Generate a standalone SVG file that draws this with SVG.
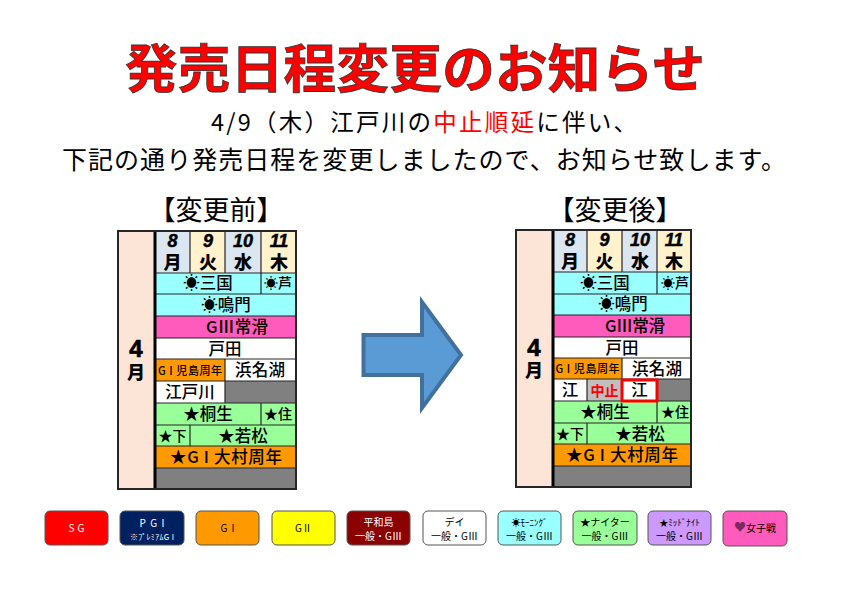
<svg xmlns="http://www.w3.org/2000/svg" width="842" height="595" viewBox="0 0 842 595">
<style>
text{font-family:"Noto Sans CJK JP","Noto Sans",sans-serif;text-anchor:middle;fill:#000}
.b{stroke:#262626;stroke-width:2;fill:none}
.mon{fill:#fce4d6}.dy1{fill:#dce6f1}.dy2{fill:#fff2cc}.cy{fill:#99ffff}.pk{fill:#ff5bbd}.wh{fill:#fff}.or{fill:#ff9900}.gy{fill:#808080}.gn{fill:#99ff99}.lg{fill:#bfbfbf}
.d{font-family:"Liberation Sans",sans-serif;font-size:18px;font-weight:700;font-style:italic;stroke:#000;stroke-width:.5}
.w{font-size:18px;font-weight:900}
.t{font-size:16.5px;font-weight:500}
.s{font-size:14px;font-weight:500}
.x{font-size:11px;font-weight:500}
.m{font-family:"Liberation Sans",sans-serif;font-size:24px;font-weight:700;stroke:#000;stroke-width:.7}
.h{font-size:27px}
.lb{stroke:#555;stroke-width:1}
.l{font-size:10px}
.ln{stroke:#262626;stroke-width:1.2;fill:none}
</style>
<g id="title">
<text x="415" y="88" font-size="52.5" font-weight="700" textLength="580" style="fill:#ff0000;stroke:#333;stroke-width:.8">発売日程変更のお知らせ</text>
<text x="424" y="131" font-size="23.500" textLength="426" lengthAdjust="spacing">4/9（木）江戸川の<tspan style="fill:#ff0000">中止順延</tspan>に伴い、</text>
<text x="424" y="169" font-size="25" textLength="724" lengthAdjust="spacing">下記の通り発売日程を変更しましたので、お知らせ致します。</text>
</g>

<g id="before">
<text class="h" x="216" y="220">【変更前】</text>
<rect class="mon" x="118" y="231" width="37" height="258"/>
<rect class="dy1" x="155" y="231" width="35" height="42"/>
<rect class="dy2" x="190" y="231" width="35" height="42"/>
<rect class="dy1" x="225" y="231" width="36" height="42"/>
<rect class="dy2" x="261" y="231" width="35" height="42"/>
<rect class="cy" x="155" y="273" width="141" height="43"/>
<rect class="pk" x="155" y="316" width="141" height="22"/>
<rect class="wh" x="155" y="338" width="141" height="43"/>
<rect class="or" x="155" y="359" width="70" height="22"/>
<rect class="wh" x="155" y="381" width="70" height="22"/>
<rect class="gy" x="225" y="381" width="71" height="22"/>
<rect class="gn" x="155" y="403" width="141" height="43"/>
<rect class="or" x="155" y="446" width="141" height="22"/>
<rect class="gy" x="155" y="468" width="141" height="21"/>
<path class="ln" d="M155 273H296M155 294H296M155 316H296M155 338H296M155 359H296M155 381H296M155 403H296M155 425H296M155 446H296M155 468H296M190 231V273M225 231V273M261 231V294M225 359V403M261 403V425M190 425V446"/>
<path d="M155 231V489" stroke="#000" stroke-width="3"/>
<rect class="b" x="118" y="231" width="178" height="258"/>
<text class="d" x="172.500" y="247">8</text><text class="w" x="172.500" y="269">月</text>
<text class="d" x="208" y="247">9</text><text class="w" x="208" y="269">火</text>
<text class="d" x="243" y="247">10</text><text class="w" x="243" y="269">水</text>
<text class="d" x="279" y="247">11</text><text class="w" x="279" y="269">木</text>
<text class="t" x="208" y="289">☀三国</text>
<text class="s" x="278" y="288">☀芦</text>
<text class="t" x="226" y="311">☀鳴門</text>
<text class="t" x="237" y="333" textLength="62">GⅢ常滑</text>
<text class="t" x="225" y="355">戸田</text>
<text class="x" x="190" y="375" textLength="64">G I 児島周年</text>
<text class="t" x="260" y="376" textLength="50">浜名湖</text>
<text class="t" x="190" y="398">江戸川</text>
<text class="t" x="208" y="420">★桐生</text>
<text class="s" x="278" y="419">★住</text>
<text class="s" x="172.500" y="441">★下</text>
<text class="t" x="243" y="442">★若松</text>
<text class="t" x="226" y="463" textLength="112">★G I 大村周年</text>
<text class="m" x="136" y="357">4</text><text class="w" x="136" y="379">月</text>
</g>

<g id="after">
<text class="h" x="615" y="220">【変更後】</text>
<rect class="mon" x="516" y="230" width="37" height="257"/>
<rect class="dy1" x="553" y="230" width="34" height="42"/>
<rect class="dy2" x="587" y="230" width="35" height="42"/>
<rect class="dy1" x="622" y="230" width="35" height="42"/>
<rect class="dy2" x="657" y="230" width="34" height="42"/>
<rect class="cy" x="553" y="272" width="138" height="43"/>
<rect class="pk" x="553" y="315" width="138" height="22"/>
<rect class="wh" x="553" y="337" width="138" height="42"/>
<rect class="or" x="553" y="358" width="69" height="21"/>
<rect class="wh" x="553" y="379" width="34" height="22"/>
<rect class="lg" x="587" y="379" width="35" height="22"/>
<rect class="gy" x="657" y="379" width="34" height="22"/>
<rect class="gn" x="553" y="401" width="138" height="43"/>
<rect class="or" x="553" y="444" width="138" height="22"/>
<rect class="gy" x="553" y="466" width="138" height="21"/>
<path class="ln" d="M553 272H691M553 294H691M553 315H691M553 337H691M553 358H691M553 379H691M553 401H691M553 423H691M553 444H691M553 466H691M587 230V272M622 230V272M657 230V294M622 358V379M587 379V401M657 401V423M587 423V444"/>
<path d="M553 230V487" stroke="#000" stroke-width="3"/>
<rect class="b" x="516" y="230" width="175" height="257"/>
<rect x="622" y="380" width="35" height="21" fill="#fff" stroke="#ff0000" stroke-width="3"/>
<text class="d" x="570" y="246">8</text><text class="w" x="570" y="268">月</text>
<text class="d" x="604.500" y="246">9</text><text class="w" x="604.500" y="268">火</text>
<text class="d" x="640" y="246">10</text><text class="w" x="640" y="268">水</text>
<text class="d" x="674" y="246">11</text><text class="w" x="674" y="268">木</text>
<text class="t" x="605" y="289">☀三国</text>
<text class="s" x="675" y="288">☀芦</text>
<text class="t" x="623" y="310">☀鳴門</text>
<text class="t" x="635" y="332" textLength="60">GⅢ常滑</text>
<text class="t" x="622" y="354">戸田</text>
<text class="x" x="587.500" y="373" textLength="64">G I 児島周年</text>
<text class="t" x="657" y="375" textLength="50">浜名湖</text>
<text class="t" x="570" y="396">江</text>
<text class="s" x="604.500" y="396" style="fill:#ff0000;font-weight:700">中止</text>
<text class="t" x="639.500" y="396">江</text>
<text class="t" x="605" y="418">★桐生</text>
<text class="s" x="675" y="417">★住</text>
<text class="s" x="570" y="439">★下</text>
<text class="t" x="640" y="440">★若松</text>
<text class="t" x="622" y="461" textLength="112">★G I 大村周年</text>
<text class="m" x="534" y="356">4</text><text class="w" x="534" y="377">月</text>
</g>

<g id="arrow">
<path d="M363.500 335H422V302L461 355L422 408V375H363.500Z" fill="#5b9bd5" stroke="#41719c" stroke-width="4"/>
</g>

<g id="legend">
<g id="lg-sg"><rect class="lb" x="45" y="511" width="63" height="34" rx="5" fill="#ff0000"/><text class="l" x="76.500" y="532" style="fill:#fff" textLength="16">S G</text></g>
<g id="lg-pg1"><rect class="lb" x="120" y="511" width="64" height="34" rx="5" fill="#002060"/><text class="l" x="152" y="527" style="fill:#fff" textLength="25">P G I</text><text x="152" y="540" font-size="8" style="fill:#fff" textLength="44">※ﾌﾟﾚﾐｱﾑG I</text></g>
<g id="lg-g1"><rect class="lb" x="196" y="511" width="63" height="34" rx="5" fill="#ff9900"/><text class="l" x="227.500" y="532" textLength="14">G I</text></g>
<g id="lg-g2"><rect class="lb" x="272" y="511" width="63" height="34" rx="5" fill="#ffff00"/><text class="l" x="303.500" y="532">GⅡ</text></g>
<g id="lg-heiwa"><rect class="lb" x="347" y="511" width="63" height="34" rx="5" fill="#8b0000"/><text class="l" x="378.500" y="526" style="fill:#fff">平和島</text><text class="l" x="378.500" y="540" style="fill:#fff">一般・GⅢ</text></g>
<g id="lg-day"><rect class="lb" x="423" y="511" width="63" height="34" rx="5" fill="#fff"/><text class="l" x="454.500" y="526">デイ</text><text class="l" x="454.500" y="540">一般・GⅢ</text></g>
<g id="lg-morning"><rect class="lb" x="498" y="511" width="63" height="34" rx="5" fill="#99ffff"/><text x="529.500" y="526" font-size="9">☀ﾓｰﾆﾝｸﾞ</text><text class="l" x="529.500" y="540">一般・GⅢ</text></g>
<g id="lg-nighter"><rect class="lb" x="573" y="511" width="64" height="34" rx="5" fill="#99ff99"/><text class="l" x="605" y="526">★ナイター</text><text class="l" x="605" y="540">一般・GⅢ</text></g>
<g id="lg-midnight"><rect class="lb" x="648" y="511" width="63" height="34" rx="5" fill="#cc99ff"/><text x="679.500" y="526" font-size="9">★ﾐｯﾄﾞﾅｲﾄ</text><text class="l" x="679.500" y="540">一般・GⅢ</text></g>
<g id="lg-women"><rect class="lb" x="723" y="511" width="64" height="35" rx="5" fill="#ff5bbd"/><text class="l" x="755" y="532"><tspan style="fill:#7a2a5a;font-size:12px">♥</tspan>女子戦</text></g>
</g>
</svg>
